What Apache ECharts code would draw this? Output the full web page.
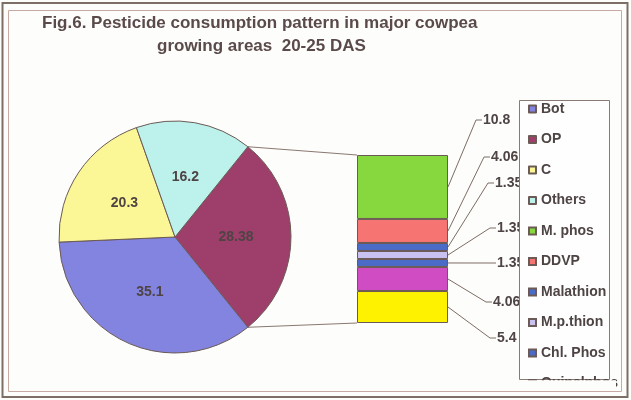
<!DOCTYPE html>
<html><head><meta charset="utf-8">
<script src="https://cdn.jsdelivr.net/npm/echarts@6/dist/echarts.min.js"></script>
<style>html,body{margin:0;padding:0;background:#fdfdfb}#c{width:631px;height:400px}</style>
</head><body><div id="c"></div>
<script>
// ---- data ----
const titleLines = ['Fig.6. Pesticide consumption pattern in major cowpea', 'growing areas  20-25 DAS'];
const pieNames = ['Bot', 'OP', 'C', 'Others'];
const pieValues = [35.1, 28.38, 20.3, 16.2];
const pieLabels = ['35.1', '28.38', '20.3', '16.2'];
// secondary (bar) part, listed top to bottom
const barNames = ['M. phos', 'DDVP', 'Malathion', 'M.p.thion', 'Chl. Phos', 'Quinalphos', 'Dimethoate'];
const barValues = [10.8, 4.06, 1.35, 1.35, 1.35, 4.06, 5.4];
const barLabels = ['10.8', '4.06', '1.35', '1.35', '1.35', '4.06', '5.4'];

// ---- styles ----
const pieColors = {'Bot': '#8383e0', 'OP': '#9e3f6b', 'C': '#fbf796', 'Others': '#bdf1ec'};
const barColors = ['#86d83e', '#f67472', '#4a6bc8', '#c9c1f0', '#4a6bc8', '#d04cc2', '#fff200'];
const edge = '#6b5a55';
const FONT = '"Liberation Sans", Arial, sans-serif';
const txt = '#4e4444';

const PIE_C = [175, 237], PIE_R = 116;
const G = {left: 357, top: 155, width: 91, height: 168};
// label anchor positions (layout) top to bottom
const labelPos = [[483, 120], [491, 157], [495, 183], [497, 228], [497, 263], [493, 302], [497, 338]];

const total = pieValues.reduce((a, b) => a + b, 0);
const opIdx = pieNames.indexOf('OP');
const startAngle = pieValues[opIdx] / total * 180;
// draw clockwise OP first so that OP faces the bar
const pieOrder = [opIdx];
for (let i = 0; i < pieNames.length; i++) if (i !== opIdx) pieOrder.push(i);
const pieData = pieOrder.map(i => ({
  name: pieNames[i], value: pieValues[i],
  itemStyle: {color: pieColors[pieNames[i]]},
  label: {formatter: pieLabels[i]}
}));
const barTotal = barValues.reduce((a, b) => a + b, 0);

const series = [{
  type: 'pie', center: PIE_C, radius: PIE_R, startAngle: startAngle, clockwise: true,
  data: pieData, silent: true,
  itemStyle: {borderColor: edge, borderWidth: 1},
  label: {show: true, position: 'inside', fontFamily: FONT, fontSize: 14, fontWeight: 'bold', color: txt},
  labelLine: {show: false}
}];
for (let i = barValues.length - 1; i >= 0; i--) {
  series.push({
    type: 'bar', name: barNames[i], stack: 's', barWidth: '100%',
    data: [barValues[i]],
    itemStyle: {color: barColors[i], borderColor: edge, borderWidth: 1},
    silent: true
  });
}

const chart = echarts.init(document.getElementById('c'), null, {renderer: 'canvas'});
chart.setOption({
  animation: false,
  backgroundColor: '#fdfdfb',
  grid: {left: G.left, top: G.top, width: G.width, height: G.height},
  xAxis: {type: 'category', data: [''], show: false},
  yAxis: {type: 'value', min: 0, max: barTotal, show: false},
  legend: {
    orient: 'vertical', left: 528, top: 101, height: 700, padding: 0,
    itemWidth: 7, itemHeight: 7, itemGap: 14.5, itemTextGap: 5, icon: 'rect',
    data: pieNames.concat(barNames),
    textStyle: {fontFamily: FONT, fontSize: 14, fontWeight: 'bold', color: txt, lineHeight: 16},
    selectedMode: false
  },
  series: series
});

// ---- decorations computed through the library's scales ----
const gfx = [];
// frames
gfx.push({type: 'rect', shape: {x: 2.5, y: 3, width: 625, height: 394}, style: {fill: null, stroke: '#7d6e66', lineWidth: 2}, z: 0});
gfx.push({type: 'rect', shape: {x: 8.5, y: 10.5, width: 613, height: 381}, style: {fill: null, stroke: '#c8aaa2', lineWidth: 1}, z: 0});
// title
gfx.push({type: 'text', x: 42, y: 23, style: {text: titleLines[0], font: 'bold 17px ' + FONT, fill: '#5a4a4a', verticalAlign: 'middle'}, z: 5});
gfx.push({type: 'text', x: 157, y: 46, style: {text: titleLines[1], font: 'bold 17px ' + FONT, fill: '#5a4a4a', verticalAlign: 'middle'}, z: 5});

const yTop = chart.convertToPixel({yAxisIndex: 0}, barTotal);
const yBot = chart.convertToPixel({yAxisIndex: 0}, 0);
const xC = chart.convertToPixel({xAxisIndex: 0}, 0);
const xLeft = xC - G.width / 2, xRight = xC + G.width / 2;
const a = startAngle * Math.PI / 180;
const pTop = [PIE_C[0] + PIE_R * Math.cos(a), PIE_C[1] - PIE_R * Math.sin(a)];
const pBot = [PIE_C[0] + PIE_R * Math.cos(a), PIE_C[1] + PIE_R * Math.sin(a)];
gfx.push({type: 'line', shape: {x1: pTop[0], y1: pTop[1], x2: xLeft, y2: yTop}, style: {stroke: '#8a7870', lineWidth: 1}, z: 1});
gfx.push({type: 'line', shape: {x1: pBot[0], y1: pBot[1], x2: xLeft, y2: yBot}, style: {stroke: '#8a7870', lineWidth: 1}, z: 1});

// leader lines + value labels
let cum = 0;
for (let i = 0; i < barValues.length; i++) {
  const mid = barTotal - cum - barValues[i] / 2;
  cum += barValues[i];
  const ym = chart.convertToPixel({yAxisIndex: 0}, mid);
  const [lx, ly] = labelPos[i];
  gfx.push({type: 'polyline', shape: {points: [[xRight, ym], [lx - 7, ly], [lx - 1, ly]]}, style: {stroke: '#7d6c64', lineWidth: 1, fill: null}, z: 1});
  gfx.push({type: 'text', x: lx, y: ly, style: {text: barLabels[i], font: 'bold 14px ' + FONT, fill: txt, verticalAlign: 'middle', align: 'left'}, z: 1});
}
// legend box (white, covering the label tails), and cover below it
gfx.push({type: 'rect', shape: {x: 519.5, y: 100.5, width: 90, height: 279}, style: {fill: '#fefefe', stroke: '#8a7a74', lineWidth: 1}, z: 2});
gfx.push({type: 'rect', shape: {x: 516, y: 380.2, width: 100, height: 10}, style: {fill: '#fdfdfb', stroke: null}, z: 50});
chart.setOption({graphic: {elements: gfx}});
</script>
</body></html>
